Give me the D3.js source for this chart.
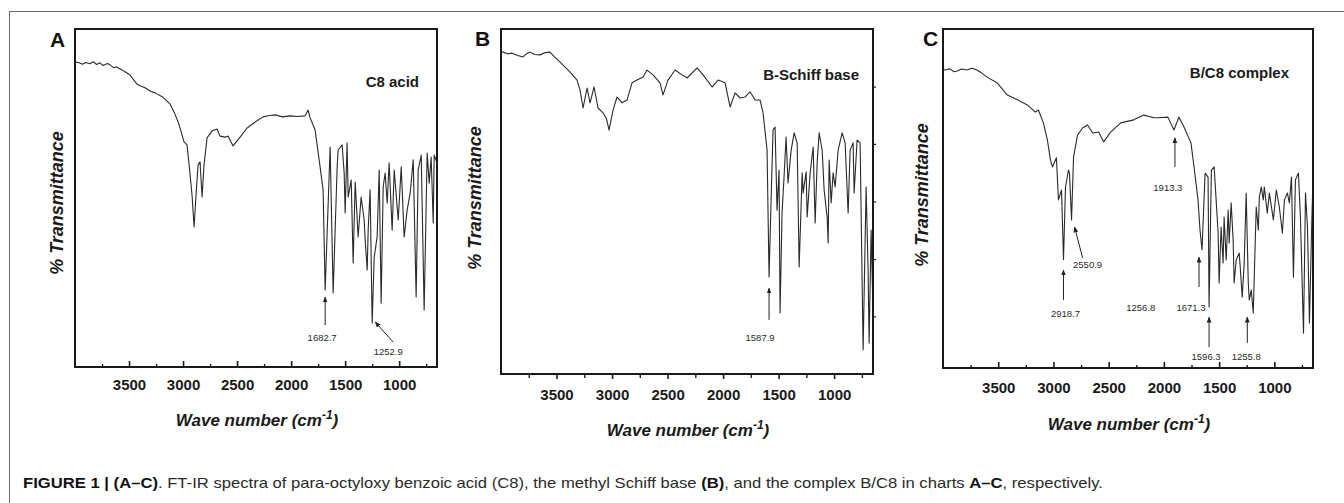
<!DOCTYPE html>
<html><head><meta charset="utf-8">
<script src="https://cdn.jsdelivr.net/npm/d3@7"></script>
<style>
html,body{margin:0;padding:0;background:#fff;}
svg{display:block;font-family:"Liberation Sans",Arial,sans-serif;}
</style></head>
<body>
<script>
// ---------- DATA ----------
const xTicks = [3500, 3000, 2500, 2000, 1500, 1000];
const xMinorTicks = [3750, 3250, 2750, 2250, 1750, 1250, 750];
const xDomain = [4000, 650];
const bRightTicks = [16.7, 33.3, 50, 66.7, 83.3];

// [wavenumber cm-1, % transmittance (relative)]
const specA = [[3990,90.2],[3963,90.0],[3930,89.6],[3900,90.1],[3861,89.7],[3830,90.3],[3800,89.5],[3769,90.0],[3740,89.2],[3700,89.8],[3676,89.4],[3640,88.5],[3620,88.8],[3565,87.9],[3530,87.2],[3491,86.4],[3426,83.7],[3400,83.2],[3352,82.6],[3300,81.6],[3259,81.1],[3185,79.8],[3120,77.8],[3083,75.4],[3046,72.5],[3019,69.8],[2991,66.6],[2963,65.7],[2944,59.8],[2917,50.9],[2898,41.4],[2880,50.9],[2861,59.8],[2843,60.7],[2824,50.3],[2806,59.8],[2778,67.8],[2732,69.8],[2685,70.4],[2658,68.3],[2611,68.0],[2583,68.3],[2537,65.4],[2472,68.0],[2407,70.7],[2333,72.5],[2259,74.0],[2200,74.4],[2148,74.6],[2080,74.0],[2009,74.3],[1940,74.1],[1870,74.3],[1843,76.0],[1824,73.7],[1778,70.1],[1732,59.2],[1704,52.4],[1685,22.8],[1639,65.1],[1611,21.9],[1574,59.2],[1565,64.2],[1528,65.7],[1509,57.4],[1500,45.6],[1482,66.3],[1472,50.3],[1444,55.3],[1426,30.8],[1407,54.7],[1380,38.5],[1352,50.3],[1324,43.5],[1315,37.6],[1296,28.7],[1287,40.5],[1269,52.4],[1250,13.0],[1231,32.5],[1204,38.5],[1185,58.3],[1167,18.9],[1148,53.3],[1130,57.4],[1111,48.5],[1093,60.4],[1065,40.5],[1046,58.3],[1009,43.5],[981,59.2],[954,38.5],[926,46.5],[898,51.5],[870,61.3],[843,20.7],[824,58.3],[796,62.7],[769,16.9],[741,63.3],[722,54.4],[704,62.1],[685,42.6],[676,62.7],[650,60.4]];

const specB = [[3995,93.5],[3982,93.3],[3940,92.8],[3900,93.0],[3850,92.3],[3802,91.9],[3770,92.8],[3739,93.3],[3700,92.6],[3649,92.5],[3600,93.2],[3559,93.3],[3520,92.0],[3468,90.4],[3378,87.5],[3315,85.2],[3288,82.3],[3261,77.1],[3225,82.9],[3198,78.6],[3162,83.2],[3126,77.1],[3081,75.7],[3050,74.0],[3027,70.7],[2991,76.5],[2955,80.3],[2910,78.6],[2865,79.4],[2820,84.4],[2775,85.2],[2721,86.1],[2685,88.1],[2631,86.7],[2568,84.4],[2541,80.9],[2496,85.2],[2432,88.1],[2369,86.7],[2324,85.8],[2234,88.7],[2180,86.7],[2099,83.2],[2045,85.2],[1982,84.4],[1937,77.4],[1892,81.5],[1847,80.0],[1802,80.3],[1757,81.8],[1712,79.4],[1667,79.4],[1640,75.7],[1604,64.9],[1586,28.1],[1568,50.0],[1550,70.7],[1532,71.6],[1514,47.5],[1496,59.1],[1487,17.7],[1469,46.7],[1451,57.1],[1433,68.7],[1415,55.4],[1387,64.9],[1360,69.9],[1333,67.0],[1315,31.0],[1288,58.3],[1279,52.5],[1252,58.6],[1243,45.5],[1216,58.3],[1189,65.8],[1171,43.8],[1153,61.2],[1135,69.9],[1108,64.9],[1090,53.3],[1063,45.5],[1054,38.0],[1045,62.0],[1027,49.6],[1009,58.3],[991,54.2],[964,64.9],[928,69.9],[901,67.0],[874,46.7],[856,64.9],[829,67.0],[820,52.5],[793,67.8],[766,67.0],[739,7.0],[712,54.2],[694,30.1],[685,9.0],[667,41.7],[650,18.6]];

const specC = [[3995,88.0],[3982,87.9],[3940,88.3],[3900,87.4],[3873,87.6],[3830,88.2],[3782,87.9],[3740,88.4],[3691,87.9],[3650,87.0],[3600,85.8],[3509,84.1],[3418,80.5],[3327,79.1],[3236,77.6],[3164,75.5],[3136,76.1],[3091,72.3],[3055,67.3],[3027,61.4],[3009,59.3],[2973,62.0],[2955,49.6],[2927,52.5],[2909,32.0],[2891,53.4],[2864,58.4],[2855,57.5],[2836,43.7],[2818,62.2],[2782,68.7],[2736,70.8],[2691,71.7],[2645,69.3],[2591,69.6],[2545,66.7],[2482,69.6],[2391,72.3],[2273,73.2],[2182,74.6],[2091,73.8],[2055,73.8],[1964,74.0],[1909,70.2],[1864,74.0],[1818,71.1],[1755,66.4],[1727,59.3],[1691,49.6],[1673,40.7],[1655,34.8],[1627,57.5],[1600,56.3],[1591,18.0],[1570,58.4],[1545,59.3],[1509,39.8],[1500,25.1],[1482,41.6],[1464,31.0],[1455,44.5],[1436,31.9],[1418,46.6],[1409,36.9],[1391,48.7],[1373,37.8],[1364,25.1],[1345,31.9],[1318,33.9],[1309,29.8],[1291,20.9],[1273,31.0],[1255,51.6],[1236,25.1],[1227,20.1],[1209,23.0],[1191,16.2],[1182,26.8],[1164,47.5],[1145,40.7],[1136,50.4],[1118,53.4],[1100,49.6],[1091,53.4],[1064,45.7],[1045,51.6],[1009,43.7],[982,52.5],[955,47.5],[927,39.8],[909,49.6],[882,51.6],[864,48.7],[845,56.3],[827,26.8],[809,55.5],[782,57.5],[764,44.5],[736,10.3],[718,51.6],[700,41.6],[682,13.3],[660,44.5],[650,56.0]];

const panelLetters = ["A", "B", "C"];
const seriesNames = ["C8 acid", "B-Schiff base", "B/C8 complex"];

// annotations: label, arrow tail [wn,T], arrow tip [wn,T], label anchor [wn,T]
const annotA = [
  {text:"1682.7", tail:[1685,12.4], tip:[1685,20.7], lab:[1713,7.7]},
  {text:"1252.9", tail:[1056,7.4], tip:[1222,13.3], lab:[1102,3.6]}
];
const annotB = [
  {text:"1587.9", tail:[1586,15.7], tip:[1586,24.9], lab:[1667,9.6]}
];
const annotC = [
  {text:"2918.7", tail:[2909,20.1], tip:[2909,28.9], lab:[2891,15.0]},
  {text:"2550.9", tail:[2736,32.5], tip:[2809,41.6], lab:[2691,29.5]},
  {text:"1913.3", tail:[1900,59.3], tip:[1900,67.9], lab:[1964,52.2]},
  {text:"1256.8", tail:null, tip:null, lab:[2209,16.8]},
  {text:"1671.3", tail:[1682,23.9], tip:[1682,32.7], lab:[1755,16.8]},
  {text:"1596.3", tail:[1591,6.2], tip:[1591,15.0], lab:[1618,2.4]},
  {text:"1255.8", tail:[1245,7.4], tip:[1245,15.0], lab:[1255,2.4]}
];

const caption = [
  {t:"FIGURE 1 | (A\u2013C)", b:true},
  {t:". FT-IR spectra of para-octyloxy benzoic acid (C8), the methyl Schiff base ", b:false},
  {t:"(B)", b:true},
  {t:", and the complex B/C8 in charts ", b:false},
  {t:"A\u2013C", b:true},
  {t:", respectively.", b:false}
];

// ---------- LAYOUT ----------
const W = 1344, H = 503;
const svg = d3.select("body").append("svg").attr("width", W).attr("height", H);
svg.append("rect").attr("x",0).attr("y",0).attr("width",W).attr("height",H).attr("fill","#fff");
svg.append("rect").attr("x",9.5).attr("y",11.5).attr("width",1345).attr("height",510)
  .attr("fill","none").attr("stroke","#6a6a6a").attr("stroke-width",1);

const defs = svg.append("defs");
defs.append("marker").attr("id","ah").attr("viewBox","0 0 10 10").attr("refX",9).attr("refY",5)
  .attr("markerWidth",6).attr("markerHeight",6).attr("orient","auto-start-reverse")
  .append("path").attr("d","M0,1 L10,5 L0,9 Z").attr("fill","#222");

const panels = [
  {box:{x0:75,x1:437,y0:29,y1:367}, spec:specA, annot:annotA, inward:true, right:false,
   tickPad:12, titleDy:59, yTitleX:57, yTitleY:203, letterX:50, letterY:47, nameY:87, nameX:419},
  {box:{x0:501,x1:873,y0:29,y1:374}, spec:specB, annot:annotB, inward:false, right:true,
   tickPad:15, titleDy:62, yTitleX:475, yTitleY:198, letterX:475, letterY:46, nameY:80, nameX:859},
  {box:{x0:943,x1:1313,y0:29,y1:368}, spec:specC, annot:annotC, inward:true, right:false,
   tickPad:14, titleDy:62, yTitleX:922, yTitleY:195, letterX:923, letterY:46, nameY:78, nameX:1289}
];

panels.forEach((p, i) => {
  const b = p.box;
  const x = d3.scaleLinear().domain(xDomain).range([b.x0, b.x1]);
  const y = d3.scaleLinear().domain([0, 100]).range([b.y1, b.y0]);
  const g = svg.append("g");

  // spectrum
  const line = d3.line().x(d => x(d[0])).y(d => y(d[1]));
  g.append("path").datum(p.spec).attr("d", line).attr("fill","none")
    .attr("stroke","#2a2a2a").attr("stroke-width",1.1).attr("stroke-linejoin","round");

  // frame
  g.append("rect").attr("x",b.x0).attr("y",b.y0).attr("width",b.x1-b.x0).attr("height",b.y1-b.y0)
    .attr("fill","none").attr("stroke","#1a1a1a").attr("stroke-width",2);

  // x axis major
  const ax = d3.axisBottom(x).tickValues(xTicks).tickFormat(d3.format("d"))
    .tickSize(p.inward ? -6 : 5).tickPadding(p.inward ? p.tickPad : p.tickPad - 5);
  const axg = g.append("g").attr("transform",`translate(0,${b.y1})`).call(ax);
  axg.select(".domain").remove();
  axg.selectAll(".tick line").attr("stroke","#1a1a1a").attr("stroke-width",1.6);
  axg.selectAll(".tick text").attr("font-size",15).attr("font-weight","bold")
    .attr("fill","#1a1a1a").attr("font-family","'Liberation Sans',Arial,sans-serif");
  // minor
  const axm = d3.axisBottom(x).tickValues(xMinorTicks).tickFormat("").tickSize(p.inward ? -3 : 4);
  const amg = g.append("g").attr("transform",`translate(0,${b.y1})`).call(axm);
  amg.select(".domain").remove();
  amg.selectAll(".tick line").attr("stroke","#1a1a1a").attr("stroke-width",1.4);

  if (p.right) {
    const ar = d3.axisRight(y).tickValues(bRightTicks).tickFormat("").tickSize(3);
    const arg = g.append("g").attr("transform",`translate(${b.x1},0)`).call(ar);
    arg.select(".domain").remove();
    arg.selectAll(".tick line").attr("stroke","#1a1a1a").attr("stroke-width",1.2);
  }

  // x title
  const xt = g.append("text").attr("x",(b.x0+b.x1)/2 + 1).attr("y",b.y1 + p.titleDy)
    .attr("text-anchor","middle").attr("font-size",17).attr("font-weight","bold")
    .attr("font-style","italic").attr("fill","#1a1a1a");
  xt.append("tspan").text("Wave number (cm");
  xt.append("tspan").attr("font-size",12).attr("dy",-7).text("-1");
  xt.append("tspan").attr("dy",7).text(")");

  // y title
  g.append("text").attr("transform",`translate(${p.yTitleX},${p.yTitleY}) rotate(-90)`)
    .attr("text-anchor","middle").attr("dominant-baseline","central")
    .attr("font-size",18).attr("font-weight","bold").attr("font-style","italic")
    .attr("fill","#1a1a1a").text("% Transmittance");

  // panel letter
  g.append("text").attr("x",p.letterX).attr("y",p.letterY).attr("font-size",21)
    .attr("font-weight","bold").attr("fill","#111").text(panelLetters[i]);

  // series name
  g.append("text").attr("x",p.nameX).attr("y",p.nameY).attr("text-anchor","end")
    .attr("font-size",15).attr("font-weight","bold").attr("fill","#1a1a1a").text(seriesNames[i]);

  // annotations
  p.annot.forEach(a => {
    if (a.tail) {
      g.append("line").attr("x1",x(a.tail[0])).attr("y1",y(a.tail[1]))
        .attr("x2",x(a.tip[0])).attr("y2",y(a.tip[1]))
        .attr("stroke","#222").attr("stroke-width",1).attr("marker-end","url(#ah)");
    }
    g.append("text").attr("x",x(a.lab[0])).attr("y",y(a.lab[1])).attr("text-anchor","middle")
      .attr("font-size",9.5).attr("fill","#2a2a2a").text(a.text);
  });
});

// caption
const cap = svg.append("text").attr("x",23).attr("y",488).attr("font-size",15).attr("fill","#2a2a2a");
caption.forEach(c => {
  cap.append("tspan").attr("font-weight", c.b ? "bold" : "normal")
    .attr("fill", c.b ? "#111" : "#2a2a2a").text(c.t);
});
const natural = cap.node().getComputedTextLength();
const target = 1080;
if (Math.abs(natural - target) > 4) {
  cap.attr("textLength", target).attr("lengthAdjust","spacingAndGlyphs");
}
</script>
</body></html>
